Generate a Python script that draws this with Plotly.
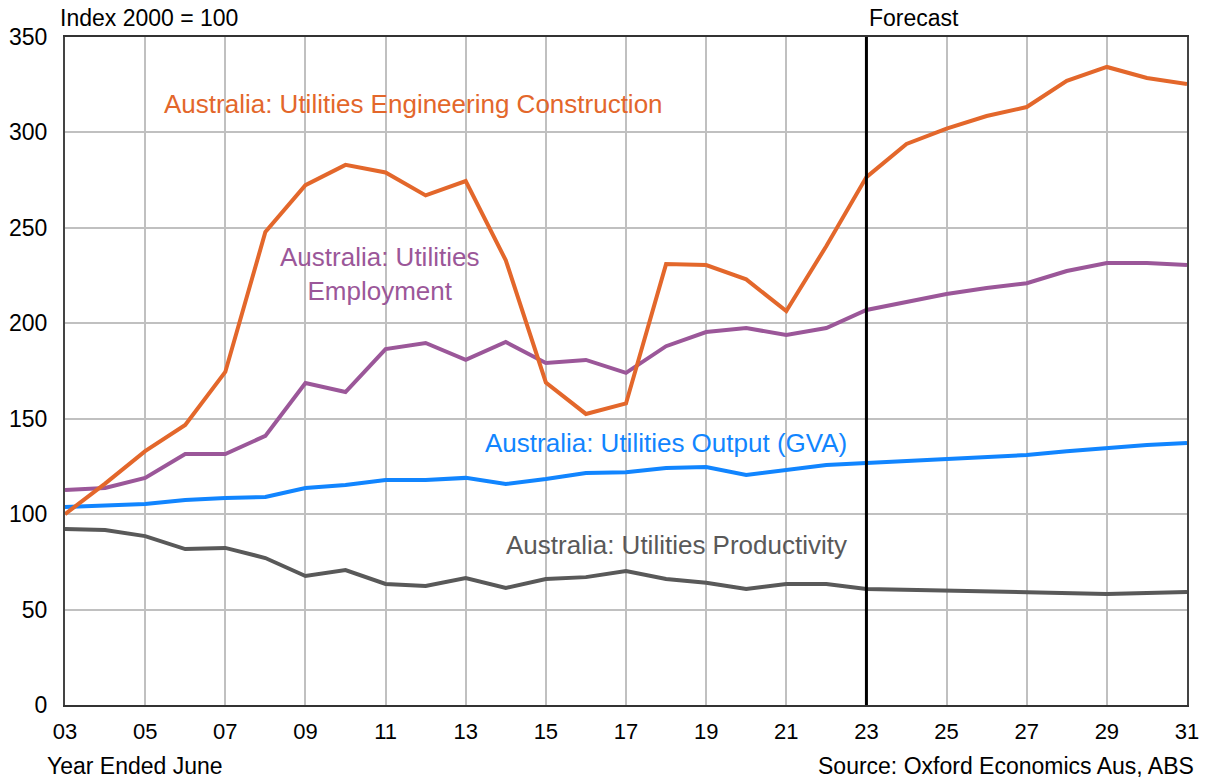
import plotly.graph_objects as go

# Year ended June, 2003 to 2031
years = list(range(2003, 2032))

construction = [100, 116, 133, 146.7, 174.5, 247.8, 272.4, 283, 279, 267, 274.5,
                233, 169, 152.5, 158, 231, 230.5, 223, 206.4, 240.5, 276.6,
                294, 302, 308.6, 313.3, 327, 334.3, 328.5, 325.4]
employment = [112.6, 113.7, 119, 131.5, 131.5, 141, 168.7, 164, 186.5, 189.7, 180.8,
              190.2, 179.2, 180.8, 174, 188, 195.4, 197.5, 193.9, 197.5, 207,
              211, 215.3, 218.5, 221, 227.4, 231.6, 231.6, 230.5]
output_gva = [103.7, 104.3, 105.3, 107.4, 108.5, 109, 113.7, 115.3, 117.9, 117.9, 119,
              115.8, 118.4, 121.6, 122, 124.2, 124.7, 120.5, 123.1, 125.7, 126.8,
              127.8, 128.9, 129.9, 131, 133, 134.7, 136.2, 137.3]
productivity = [92.2, 91.7, 88.5, 81.7, 82.3, 77, 67.6, 70.7, 63.4, 62.4, 66.5,
                61.3, 66, 67, 70.2, 66, 64, 60.8, 63.4, 63.4, 60.8,
                60.3, 59.7, 59.5, 59.2, 58.7, 58.2, 58.7, 59.2]

tick_years = list(range(2003, 2032, 2))
tick_labels = [f"{y % 100:02d}" for y in tick_years]
forecast_start = 2023

ORANGE = "#E3672B"
PURPLE = "#9B5799"
BLUE = "#1185FF"
GREY = "#595959"
FONT = "Liberation Sans, Arial, sans-serif"

W, H = 1205, 780
M_L, M_R, M_T, M_B = 65, 18, 37, 75

fig = go.Figure()
for vals, col in [(productivity, GREY), (output_gva, BLUE),
                  (employment, PURPLE), (construction, ORANGE)]:
    fig.add_trace(go.Scatter(x=years, y=vals, mode="lines",
                             line=dict(color=col, width=4), showlegend=False,
                             hoverinfo="skip"))

# forecast divider
fig.add_shape(type="line", xref="x", yref="paper", x0=forecast_start, x1=forecast_start,
              y0=0, y1=1, line=dict(color="#000000", width=3))

fig.update_layout(
    width=W, height=H,
    margin=dict(l=M_L, r=M_R, t=M_T, b=M_B),
    paper_bgcolor="white", plot_bgcolor="white",
    font=dict(family=FONT, size=23, color="#000000"),
    xaxis=dict(range=[2003, 2031], tickvals=tick_years, ticktext=tick_labels,
               showgrid=True, gridcolor="#C0C0C0", gridwidth=1.5,
               showline=True, linecolor="#333333", linewidth=2, mirror=True,
               ticks="", zeroline=False, tickfont=dict(size=22), ticklabelstandoff=6,
               automargin=False),
    yaxis=dict(range=[0, 350], tickvals=[0, 50, 100, 150, 200, 250, 300, 350],
               showgrid=True, gridcolor="#C0C0C0", gridwidth=1.5,
               showline=True, linecolor="#444444", linewidth=2, mirror=True,
               ticks="", zeroline=False, tickfont=dict(size=23), ticklabelstandoff=11,
               automargin=False),
)

# text placed by page pixel position (x, y of anchor)
annotations = [
    dict(text="Index 2000 = 100", x=58, y=18, xanchor="left", size=23, color="#000000"),
    dict(text="Forecast", x=867, y=18, xanchor="left", size=23, color="#000000"),
    dict(text="Year Ended June", x=45, y=766, xanchor="left", size=23, color="#000000"),
    dict(text="Source: Oxford Economics Aus, ABS", x=1196, y=766, xanchor="right",
         size=23, color="#000000"),
    dict(text="Australia: Utilities Engineering Construction", x=162, y=104,
         xanchor="left", size=26, color=ORANGE),
    dict(text="Australia: Utilities<br>Employment", x=379, y=274,
         xanchor="center", size=26, color=PURPLE),
    dict(text="Australia: Utilities Output (GVA)", x=483, y=443,
         xanchor="left", size=26, color=BLUE),
    dict(text="Australia: Utilities Productivity", x=504, y=545,
         xanchor="left", size=26, color=GREY),
]
plot_w = W - M_L - M_R
plot_h = H - M_T - M_B
for a in annotations:
    fig.add_annotation(text=a["text"], xref="paper", yref="paper",
                       x=(a["x"] - M_L) / plot_w, y=(H - M_B - a["y"]) / plot_h,
                       xanchor=a["xanchor"], yanchor="middle", showarrow=False,
                       align="center",
                       font=dict(size=a["size"], color=a["color"], family=FONT))

fig.write_html("out.html")
